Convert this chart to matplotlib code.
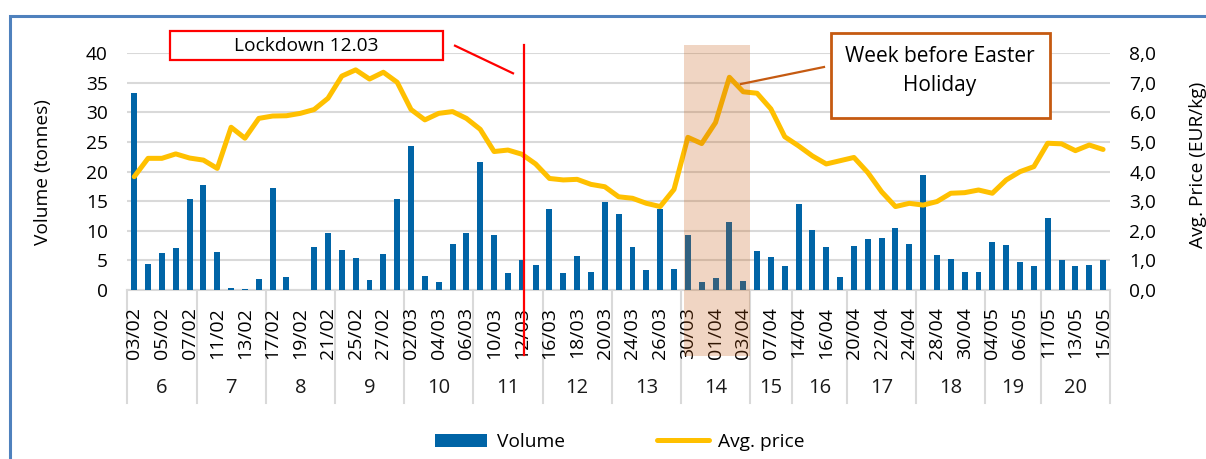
import matplotlib
matplotlib.use("Agg")
import matplotlib.pyplot as plt
import matplotlib.patches as mpatches
import matplotlib.transforms as mtransforms
from matplotlib.lines import Line2D
import numpy as np

plt.rcParams['font.family'] = ['Open Sans', 'DejaVu Sans']

# ---------------- data ----------------
dates = ["03/02", "04/02", "05/02", "06/02", "07/02",
         "10/02", "11/02", "12/02", "13/02", "14/02",
         "17/02", "18/02", "19/02", "20/02", "21/02",
         "24/02", "25/02", "26/02", "27/02", "28/02",
         "02/03", "03/03", "04/03", "05/03", "06/03",
         "09/03", "10/03", "11/03", "12/03", "13/03",
         "16/03", "17/03", "18/03", "19/03", "20/03",
         "23/03", "24/03", "25/03", "26/03", "27/03",
         "30/03", "31/03", "01/04", "02/04", "03/04",
         "06/04", "07/04", "08/04",
         "14/04", "15/04", "16/04", "17/04",
         "20/04", "21/04", "22/04", "23/04", "24/04",
         "27/04", "28/04", "29/04", "30/04", "01/05",
         "04/05", "05/05", "06/05", "07/05",
         "11/05", "12/05", "13/05", "14/05", "15/05"]

weeks = ["6", "7", "8", "9", "10", "11", "12", "13", "14", "15", "16", "17", "18", "19", "20"]
week_sizes = [5, 5, 5, 5, 5, 5, 5, 5, 5, 3, 4, 5, 5, 4, 5]

volume = [33.3, 4.4, 6.2, 7.1, 15.4,
          17.7, 6.4, 0.3, 0.2, 1.9,
          17.2, 2.2, 0.0, 7.3, 9.6,
          6.8, 5.4, 1.7, 6.1, 15.4,
          24.3, 2.3, 1.3, 7.8, 9.6,
          21.7, 9.3, 2.9, 5.0, 4.3,
          13.7, 2.8, 5.7, 3.0, 14.9,
          12.8, 7.3, 3.3, 13.7, 3.5,
          9.3, 1.35, 2.1, 11.5, 1.6,
          6.6, 5.5, 4.1,
          14.6, 10.1, 7.2, 2.2,
          7.4, 8.6, 8.8, 10.5, 7.8,
          19.4, 5.9, 5.2, 3.1, 3.1,
          8.1, 7.6, 4.7, 4.0,
          12.1, 5.1, 4.1, 4.2, 5.1]

price = [3.83, 4.45, 4.45, 4.60, 4.46,
         4.39, 4.11, 5.50, 5.13, 5.80,
         5.88, 5.89, 5.97, 6.10, 6.48,
         7.23, 7.44, 7.13, 7.36, 7.02,
         6.10, 5.75, 5.97, 6.03, 5.80,
         5.43, 4.68, 4.73, 4.59, 4.26,
         3.77, 3.72, 3.74, 3.57, 3.49,
         3.15, 3.10, 2.93, 2.82, 3.40,
         5.16, 4.95, 5.66, 7.19, 6.70,
         6.65, 6.12, 5.18,
         4.87, 4.53, 4.26, 4.37,
         4.48, 3.97, 3.32, 2.82, 2.93,
         2.87, 2.99, 3.27, 3.29, 3.38,
         3.27, 3.72, 4.00, 4.17,
         4.96, 4.94, 4.71, 4.90, 4.75]

lockdown_date = "12/03"
easter_week = "14"

# ---------------- styling ----------------
W, H = 1206, 459
BLUE = "#0064A6"
GOLD = "#FFC000"
GRID = "#D9D9D9"
ORANGE = "#C55A11"

fig = plt.figure(figsize=(W / 100, H / 100), dpi=100)

def fx(px):
    return px / W

def fy(py):
    return 1 - py / H

ax_left, ax_right, ax_top, ax_bot = 127.3, 1110, 53.3, 290
ax = fig.add_axes([fx(ax_left), fy(ax_bot), fx(ax_right - ax_left), (ax_bot - ax_top) / H])
ax2 = ax.twinx()

x = np.arange(len(dates))
ax.bar(x, volume, width=0.43, color=BLUE, zorder=2)
ax2.plot(x, price, color=GOLD, lw=3.6, solid_joinstyle='round', solid_capstyle='round', zorder=3)

ax.set_xlim(-0.5, len(dates) - 0.5)
ax.set_ylim(0, 40)
ax2.set_ylim(0, 8)
ax.set_yticks(np.arange(0, 41, 5))
ax2.set_yticks(np.arange(0, 9, 1))
ax2.set_yticklabels([f"{v:.1f}".replace(".", ",") for v in np.arange(0, 9, 1)])
ax.yaxis.grid(True, color=GRID, lw=1.5, zorder=0)
ax.set_axisbelow(True)

for a in (ax, ax2):
    for s in a.spines.values():
        s.set_visible(False)
    a.tick_params(axis='y', length=0, labelsize=13.8, pad=14)
ax.set_xticks(x[::2])
ax.set_xticklabels(dates[::2], rotation=90, fontsize=14)
ax.tick_params(axis='x', length=0, pad=12)

# bottom axis line and week separators (drawn beneath the tick labels)
trans = mtransforms.blended_transform_factory(ax.transData, ax.transAxes)
ax.plot([-0.5, len(dates) - 0.5], [0, 0], color=GRID, lw=1.5, transform=trans, clip_on=False, zorder=0.3)
bounds = np.concatenate([[0], np.cumsum(week_sizes)]) - 0.5
sep_bottom = -(403 - ax_bot) / (ax_bot - ax_top)
for b in bounds:
    ax.plot([b, b], [0, sep_bottom], color=GRID, lw=1.5, transform=trans, clip_on=False, zorder=0.3)
week_y = -(388 - ax_bot) / (ax_bot - ax_top)
for i, wk in enumerate(weeks):
    ax.text((bounds[i] + bounds[i + 1]) / 2, week_y, wk, transform=trans,
            ha='center', va='center', fontsize=14.5, color='#1a1a1a')

# highlight: week before Easter
trans2 = mtransforms.blended_transform_factory(ax2.transData, ax2.transAxes)
wi = weeks.index(easter_week)
top_ax = (ax_bot - 45) / (ax_bot - ax_top)
bot_ax = -(356 - ax_bot) / (ax_bot - ax_top)
rect = mpatches.Rectangle((bounds[wi] + 0.22, bot_ax), bounds[wi + 1] - bounds[wi] - 0.22, top_ax - bot_ax,
                          transform=trans2, facecolor=ORANGE, alpha=0.25, edgecolor='none',
                          clip_on=False, zorder=10)
ax2.add_patch(rect)

# lockdown line
li = dates.index(lockdown_date) + 0.15
ax2.plot([li, li], [-(355 - ax_bot) / (ax_bot - ax_top), top_ax], color='#FF0000', lw=1.6,
         transform=trans2, clip_on=False, zorder=11)

# annotation boxes
fig.patches.append(mpatches.Rectangle((fx(170), fy(60)), fx(443 - 170), (60 - 31) / H,
                                      transform=fig.transFigure, facecolor='white',
                                      edgecolor='#FF0000', lw=1.6, zorder=5))
fig.text(fx(306), fy(46), "Lockdown 12.03", ha='center', va='center', fontsize=13.8, zorder=6)
fig.lines.append(Line2D([fx(455), fx(513)], [fy(45.7), fy(73.3)], transform=fig.transFigure,
                        color='#FF0000', lw=1.6, zorder=6))

fig.patches.append(mpatches.Rectangle((fx(831), fy(118)), fx(1050 - 831), (118 - 33) / H,
                                      transform=fig.transFigure, facecolor='white',
                                      edgecolor=ORANGE, lw=2, zorder=5))
fig.text(fx(940), fy(57), "Week before Easter", ha='center', va='center', fontsize=15, zorder=6)
fig.text(fx(940), fy(86), "Holiday", ha='center', va='center', fontsize=15, zorder=6)
fig.lines.append(Line2D([fx(824), fx(741)], [fy(67), fy(84)], transform=fig.transFigure,
                        color=ORANGE, lw=1.6, zorder=6))

# axis titles
fig.text(fx(43), fy(172), "Volume (tonnes)", rotation=90, ha='center', va='center', fontsize=13.8)
fig.text(fx(1198), fy(165), "Avg. Price (EUR/kg)", rotation=90, ha='center', va='center', fontsize=13.8)

# legend
handles = [mpatches.Patch(facecolor=BLUE, edgecolor='none', label="Volume"),
           Line2D([], [], color=GOLD, lw=3.6, solid_capstyle='round', label="Avg. price")]
fig.legend(handles=handles, loc='center', bbox_to_anchor=(fx(620), fy(442)), ncol=2, frameon=False,
           fontsize=13.8, handlelength=2.7, handleheight=0.65, handletextpad=0.5, columnspacing=4.8)

# outer frame
fig.patches.append(mpatches.Rectangle((fx(10), -0.1), 1.2, fy(16) + 0.1, transform=fig.transFigure,
                                      fill=False, edgecolor='#4F81BD', lw=2.2, zorder=20))

fig.savefig("out.png", dpi=100)
